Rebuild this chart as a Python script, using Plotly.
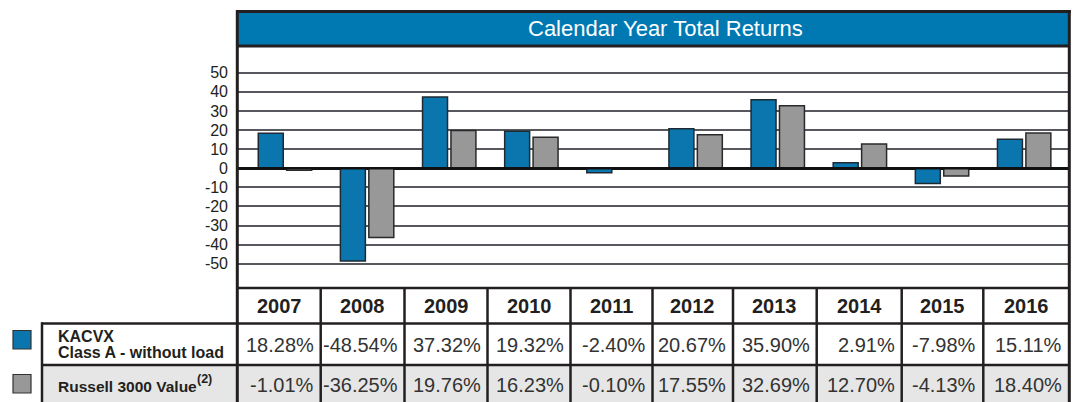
import plotly.graph_objects as go

years = ["2007", "2008", "2009", "2010", "2011", "2012", "2013", "2014", "2015", "2016"]
kacvx = [18.28, -48.54, 37.32, 19.32, -2.40, 20.67, 35.90, 2.91, -7.98, 15.11]
russell = [-1.01, -36.25, 19.76, 16.23, -0.10, 17.55, 32.69, 12.70, -4.13, 18.40]
kacvx_labels = ["18.28%", "-48.54%", "37.32%", "19.32%", "-2.40%", "20.67%", "35.90%", "2.91%", "-7.98%", "15.11%"]
russell_labels = ["-1.01%", "-36.25%", "19.76%", "16.23%", "-0.10%", "17.55%", "32.69%", "12.70%", "-4.13%", "18.40%"]
y_ticks = [50, 40, 30, 20, 10, 0, -10, -20, -30, -40, -50]
title = "Calendar Year Total Returns"
series_names = ["KACVX", "Class A - without load", "Russell 3000 Value"]
footnote = "(2)"

W, H = 1078, 402
L, R, T, B = 237, 9, 47, 115
PW, PH = W - L - R, H - T - B

def px(x):
    return (x - L) / PW

def py(y):
    return (T + PH - y) / PH

BLUE = "#0b76ad"
GRAY = "#989898"
DARK = "#231f20"

idx = list(range(len(years)))

fig = go.Figure()
fig.add_trace(go.Bar(x=idx, y=kacvx, width=0.304, offset=-0.325,
                     marker=dict(color=BLUE, line=dict(color="#1e2a33", width=1.5)),
                     name="KACVX", showlegend=False, hoverinfo="skip"))
fig.add_trace(go.Bar(x=idx, y=russell, width=0.304, offset=0.021,
                     marker=dict(color=GRAY, line=dict(color="#2a2a2a", width=1.5)),
                     name="Russell 3000 Value", showlegend=False, hoverinfo="skip"))

fig.update_layout(
    width=W, height=H, autosize=False,
    margin=dict(l=L, r=R, t=T, b=B, pad=0),
    paper_bgcolor="white", plot_bgcolor="white",
    barmode="overlay",
    font=dict(family="Liberation Sans, Arial, sans-serif", color=DARK),
    xaxis=dict(range=[-0.584, 9.546], showgrid=False, zeroline=False,
               showticklabels=False, ticks="", fixedrange=True),
    yaxis=dict(range=[-62.2, 63.46], tickvals=y_ticks, ticktext=[str(v) for v in y_ticks],
               showgrid=True, gridcolor="#56585d", gridwidth=1.5,
               zeroline=True, zerolinecolor="#111111", zerolinewidth=2.5,
               tickfont=dict(size=16, color=DARK), ticks="", ticklabelstandoff=8,
               fixedrange=True),
)

shapes = []
shapes.append(dict(type="line", xref="paper", yref="y", x0=0, x1=1, y0=0, y1=0,
                   line=dict(color="#111111", width=2.5), layer="above"))
shapes.append(dict(type="rect", xref="paper", yref="paper", x0=px(237.3), x1=px(1069.3),
                   y0=py(46), y1=py(11.5), fillcolor="#0079b2", line=dict(width=0), layer="above"))
shapes.append(dict(type="rect", xref="paper", yref="paper", x0=px(42), x1=px(1069.3),
                   y0=py(405), y1=py(365), fillcolor="#e6e6e6", line=dict(width=0), layer="below"))

col_edges = [237.3, 320.7, 404.5, 487.5, 570.5, 652.5, 733.0, 816.7, 901.7, 983.3, 1069.3]

def hline(x0, x1, y, w=2.5):
    shapes.append(dict(type="line", xref="paper", yref="paper", x0=px(x0), x1=px(x1),
                       y0=py(y), y1=py(y), line=dict(color=DARK, width=w), layer="above"))

def vline(x, y0, y1, w=2.5):
    shapes.append(dict(type="line", xref="paper", yref="paper", x0=px(x), x1=px(x),
                       y0=py(y0), y1=py(y1), line=dict(color=DARK, width=w), layer="above"))

hline(236, 1070.8, 11.5, 3)
hline(237.3, 1069.3, 46, 3)
hline(237.3, 1069.3, 288, 2.5)
hline(41, 1069.3, 323.5, 2.5)
hline(41, 1069.3, 365, 2.5)
vline(237.3, 10, 405, 3)
vline(1069.3, 10, 405, 3)
vline(42, 322.3, 405, 2.5)
for e in col_edges[1:-1]:
    vline(e, 288, 405, 2.5)

shapes.append(dict(type="rect", xref="paper", yref="paper", x0=px(13), x1=px(31),
                   y0=py(349), y1=py(330.5), fillcolor=BLUE, line=dict(color="#333", width=1.2)))
shapes.append(dict(type="rect", xref="paper", yref="paper", x0=px(13), x1=px(31),
                   y0=py(393), y1=py(374.5), fillcolor=GRAY, line=dict(color="#333", width=1.2)))

ann = []
ann.append(dict(text=title, xref="paper", yref="paper", x=px(665.5), y=py(28.5),
                xanchor="center", yanchor="middle", showarrow=False,
                font=dict(size=22, color="white")))
for i, yr in enumerate(years):
    cx = (col_edges[i] + col_edges[i + 1]) / 2
    ann.append(dict(text="<b>%s</b>" % yr, xref="paper", yref="paper", x=px(cx), y=py(306),
                    xanchor="center", yanchor="middle", showarrow=False,
                    font=dict(size=20, color=DARK)))
    ann.append(dict(text=kacvx_labels[i], xref="paper", yref="paper", x=px(col_edges[i + 1] - 5),
                    y=py(345), xanchor="right", yanchor="middle", showarrow=False,
                    font=dict(size=20, color="#333333")))
    ann.append(dict(text=russell_labels[i], xref="paper", yref="paper", x=px(col_edges[i + 1] - 5),
                    y=py(385), xanchor="right", yanchor="middle", showarrow=False,
                    font=dict(size=20, color="#333333")))

ann.append(dict(text="<b>%s</b>" % series_names[0], xref="paper", yref="paper", x=px(56), y=py(336),
                xanchor="left", yanchor="middle", showarrow=False, font=dict(size=16, color=DARK)))
ann.append(dict(text="<b>%s</b>" % series_names[1], xref="paper", yref="paper", x=px(56), y=py(352.5),
                xanchor="left", yanchor="middle", showarrow=False, font=dict(size=16, color=DARK)))
ann.append(dict(text="<b>%s</b>" % series_names[2], xref="paper", yref="paper", x=px(56), y=py(386),
                xanchor="left", yanchor="middle", showarrow=False, font=dict(size=15.5, color=DARK)))
ann.append(dict(text="<b>%s</b>" % footnote, xref="paper", yref="paper", x=px(194.5), y=py(379),
                xanchor="left", yanchor="middle", showarrow=False, font=dict(size=12.5, color=DARK)))

fig.update_layout(shapes=shapes, annotations=ann)
fig.write_html("out.html")
